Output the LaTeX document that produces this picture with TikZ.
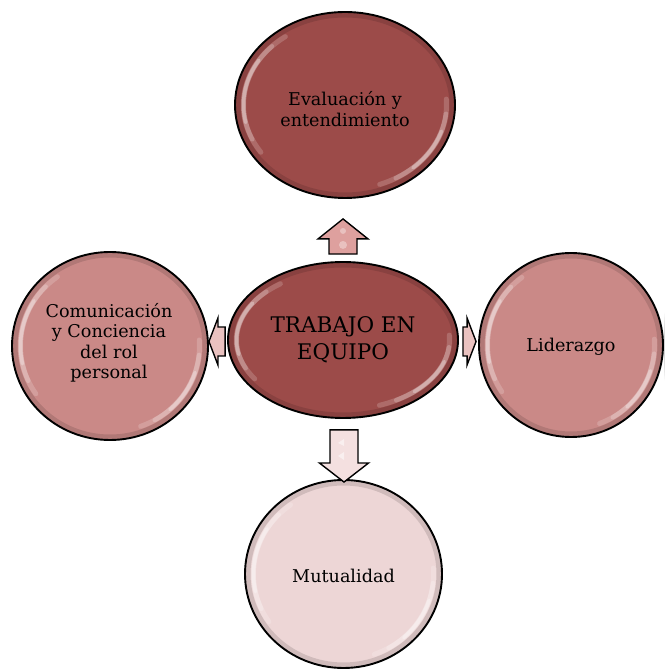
\documentclass[tikz,border=0pt]{standalone}
\usepackage{fontspec}
\setmainfont{DejaVu Serif}
\usetikzlibrary{shapes.geometric,calc}

\definecolor{deepRose}{RGB}{156,75,73}
\definecolor{midRose}{RGB}{202,137,135}
\definecolor{paleRose}{RGB}{237,214,214}
\definecolor{arrUp}{RGB}{222,160,158}
\definecolor{arrSide}{RGB}{234,194,192}
\definecolor{arrDown}{RGB}{244,224,224}

\pgfdeclarelayer{background}
\pgfsetlayers{background,main}

\tikzset{
  bubble/.style={ellipse, draw=black, line width=1.9pt, inner sep=0pt,
                 align=center, text=black},
  outerlabel/.style={font=\fontsize{17.6}{20.5}\selectfont},
  innerlabel/.style={font=\fontsize{21.5}{27}\selectfont},
  blockarrow/.style={draw=black, line width=1.4pt, line join=miter},
}

% soft grey halo under an ellipse: #1 node, #2 x radius, #3 y radius
\newcommand\halo[3]{%
  \begin{pgfonlayer}{background}
    \foreach \k in {1,...,7}{
      \fill[black, opacity=0.03]
        ([yshift=-1.5pt]#1.center) ellipse[x radius=#2+\k, y radius=#3+\k];
    }
  \end{pgfonlayer}}

% glossy rim and highlight streaks inside an ellipse
\newcommand\gloss[3]{%
  \begin{scope}
    \clip (#1.center) ellipse[x radius=#2, y radius=#3];
    \draw[black, opacity=0.12, line width=7pt]
      (#1.center) ellipse[x radius=#2-2, y radius=#3-2];
    \pgfmathsetmacro\gx{#2-8.5}
    \pgfmathsetmacro\gy{#3-8.5}
    \foreach \a/\b/\o/\w in {126/214/0.18/5, 136/204/0.22/4.5, 148/192/0.3/3.5,
                             -70/4/0.18/5, -60/-6/0.22/4.5, -48/-18/0.3/3.5}{
      \draw[white, opacity=\o, line width=\w pt, line cap=round]
        (#1.center) ++(\a:{\gx} and {\gy})
        arc[start angle=\a, end angle=\b, x radius=\gx, y radius=\gy];
    }
  \end{scope}}

% block arrow from tail #2 to tip #3: style #1, head length #4,
% half head width #5, half shaft width #6
\newcommand\blockarr[6]{%
  \coordinate (T) at (#2);
  \coordinate (P) at (#3);
  \coordinate (B) at ($(P)!#4!(T)$);
  \draw[#1] (P) -- ($(B)!#5!-90:(P)$) -- ($(B)!#6!-90:(P)$)
    -- ($(T)!#6!-90:(B)$) -- ($(T)!#6!90:(B)$)
    -- ($(B)!#6!90:(P)$) -- ($(B)!#5!90:(P)$) -- cycle;}

\begin{document}
\begin{tikzpicture}[x=1pt, y=1pt]
  \fill[white] (0,0) rectangle (664,671);
  \useasboundingbox (0,0) rectangle (664,671);

  % the five ellipses
  \node[bubble, fill=deepRose, minimum width=220, minimum height=186]
    (ev) at (345,566) {};
  \node[bubble, fill=deepRose, minimum width=230, minimum height=156]
    (tr) at (343,331) {};
  \node[bubble, fill=midRose, minimum width=196, minimum height=188]
    (co) at (110,325) {};
  \node[bubble, fill=midRose, minimum width=184, minimum height=184]
    (li) at (571,326) {};
  \node[bubble, fill=paleRose, minimum width=197, minimum height=188]
    (mu) at (343.5,97) {};

  \halo{ev}{110}{93}
  \halo{tr}{115}{78}
  \halo{co}{98}{94}
  \halo{li}{92}{92}
  \halo{mu}{98.5}{94}

  \gloss{ev}{110}{93}
  \gloss{tr}{115}{78}
  \gloss{co}{98}{94}
  \gloss{li}{92}{92}
  \gloss{mu}{98.5}{94}

  % labels, set on top of the gloss
  \node[outerlabel, align=center] (evText) at ($(ev.center)+(0,-4)$) {Evaluación y\\entendimiento};
  \node[innerlabel, align=center] (trText) at (tr.center) {TRABAJO EN\\EQUIPO};
  \node[outerlabel, align=center] (coText) at ($(co.center)+(-1,3)$) {Comunicación\\y Conciencia\\del rol\\personal};
  \node[outerlabel] (liText) at ($(li.center)+(0,-2)$) {Liderazgo};
  \node[outerlabel] (muText) at ($(mu.center)+(0,-2)$) {Mutualidad};

  % block arrows from the centre to each ellipse
  \coordinate (upTail) at ($(tr.north)+(0,7)$);
  \coordinate (upTip)  at ($(ev.south)+(-2,-20)$);
  \blockarr{blockarrow, fill=arrUp}{upTail}{upTip}{20pt}{25pt}{14pt}
  \fill[white, opacity=0.35] ($(upTip)+(0,-12)$) circle (3);
  \fill[white, opacity=0.35] ($(upTip)+(0,-26)$) circle (4);

  \coordinate (dnTail) at ($(tr.south)+(1,-11)$);
  \coordinate (dnTip)  at ($(mu.north)+(0.5,-3)$);
  \blockarr{blockarrow, fill=arrDown}{dnTail}{dnTip}{19pt}{24.5pt}{14pt}
  \fill[white, opacity=0.5] ($(dnTail)+(0,-9)$) -- ++(-6,-4) -- ++(6,-3) -- cycle;
  \fill[white, opacity=0.5] ($(dnTail)+(0,-22)$) -- ++(-6,-4) -- ++(6,-4) -- cycle;

  \coordinate (lfTail) at ($(tr.west)+(-2,-1.5)$);
  \coordinate (lfTip)  at ($(co.east)+(0,4.5)$);
  \blockarr{blockarrow, fill=arrSide}{lfTail}{lfTip}{9pt}{23.5pt}{14.5pt}

  \coordinate (rtTail) at ($(tr.east)+(4,-1.5)$);
  \coordinate (rtTip)  at ($(li.west)+(-2,3.5)$);
  \blockarr{blockarrow, fill=arrSide}{rtTail}{rtTip}{9pt}{23.5pt}{14.5pt}
\end{tikzpicture}
\end{document}
